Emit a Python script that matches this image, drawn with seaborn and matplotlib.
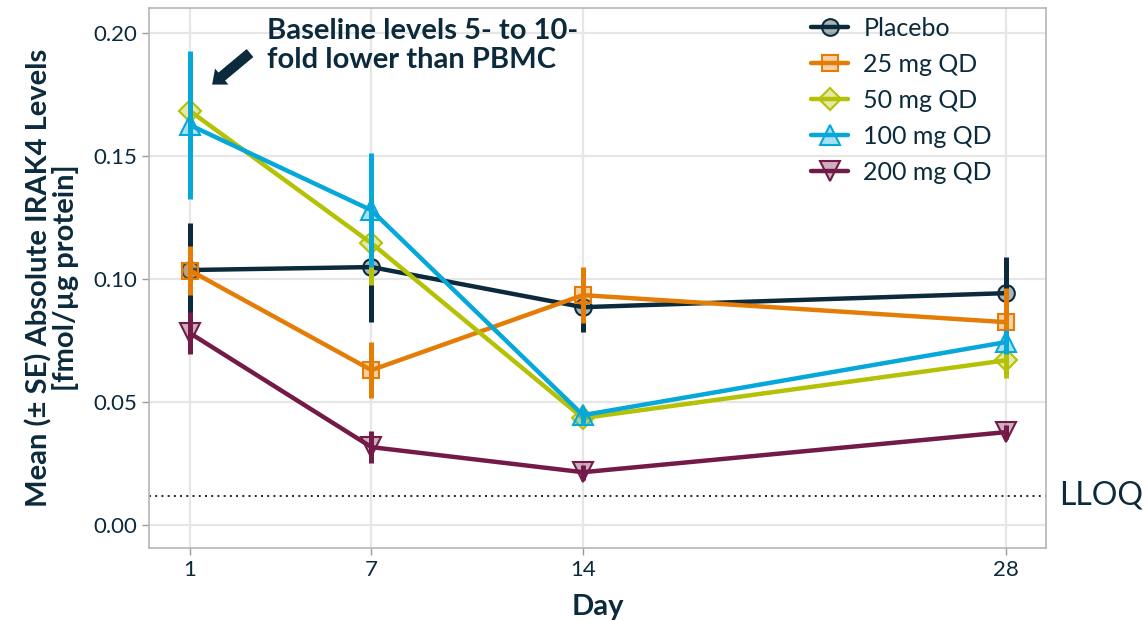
import matplotlib
matplotlib.use("Agg")
import matplotlib.pyplot as plt
import matplotlib.transforms as mtransforms
from matplotlib.colors import to_rgba
import seaborn as sns
import pandas as pd

# data
days = [1, 7, 14, 28]
groups = ["Placebo", "25 mg QD", "50 mg QD", "100 mg QD", "200 mg QD"]
placebo = [0.1037, 0.1049, 0.0886, 0.0943]
mg25 = [0.1035, 0.0630, 0.0935, 0.0825]
mg50 = [0.1683, 0.1146, 0.0435, 0.0670]
mg100 = [0.1626, 0.1280, 0.0447, 0.0744]
mg200 = [0.0780, 0.0317, 0.0215, 0.0378]
se_placebo = [0.0190, 0.0224, 0.0100, 0.0146]
se_25 = [0.0100, 0.0114, 0.0114, 0.0138]
se_50 = [0.0040, 0.0170, 0.0030, 0.0073]
se_100 = [0.0300, 0.0232, 0.0030, 0.0050]
se_200 = [0.0085, 0.0065, 0.0030, 0.0030]
lloq = 0.012

means = [placebo, mg25, mg50, mg100, mg200]
ses = [se_placebo, se_25, se_50, se_100, se_200]
colors = ["#0b2a3c", "#e47d06", "#b4c104", "#05a8d8", "#731a48"]
markers = ["o", "s", "D", "^", "v"]
msizes = [12, 12, 11, 14, 14]
text_col = "#0b2a3c"

rows = []
for g, m, s in zip(groups, means, ses):
    for d, v, e in zip(days, m, s):
        rows.append({"Day": d, "mean": v, "se": e, "group": g})
df = pd.DataFrame(rows)

sns.set_style("white")
plt.rcParams["font.family"] = ["Lato", "DejaVu Sans"]

fig = plt.figure(figsize=(11.48, 6.21), dpi=100)
ax = fig.add_axes([0.1298, 0.1176, 0.7813, 0.8694])

for i, g in enumerate(groups):
    sub = df[df["group"] == g]
    sns.lineplot(data=sub, x="Day", y="mean", color=colors[i], linewidth=3.2,
                 marker=markers[i], markersize=msizes[i],
                 markerfacecolor=to_rgba(colors[i], 0.35),
                 markeredgecolor=colors[i], markeredgewidth=1.5,
                 errorbar=None, ax=ax, zorder=3 + i, label=g)
    ax.errorbar(sub["Day"], sub["mean"], yerr=sub["se"], fmt="none",
                ecolor=colors[i], elinewidth=3.6, capsize=0, zorder=3 + i)

ax.axhline(lloq, color=text_col, linestyle=(0, (1, 2.2)), linewidth=1.4, zorder=2)
trans = mtransforms.blended_transform_factory(ax.transAxes, ax.transData)
ax.text(1.015, lloq, "LLOQ", transform=trans, va="center", ha="left",
        fontsize=23, color=text_col, clip_on=False)

ax.set_xlim(-0.36, 29.32)
ax.set_ylim(-0.0093, 0.2102)
ax.set_xticks(days)
ax.set_yticks([0.00, 0.05, 0.10, 0.15, 0.20])
ax.set_yticklabels(["0.00", "0.05", "0.10", "0.15", "0.20"])
ax.grid(True, color="#e6e6e6", linewidth=1.6, zorder=0)
ax.set_axisbelow(True)
for sp in ax.spines.values():
    sp.set_color("#b5b5b5")
    sp.set_linewidth(1.2)
ax.tick_params(axis="both", labelsize=16, colors="#9a9a9a", labelcolor=text_col,
               length=5, width=1, direction="out", left=True, bottom=True)

ax.set_xlabel("Day", fontsize=21, fontweight="bold", color=text_col, labelpad=10)
ax.set_ylabel("Mean (± SE) Absolute IRAK4 Levels\n[fmol/µg protein]", fontsize=21,
              fontweight="bold", color=text_col, linespacing=1.0, labelpad=10)

ax.annotate("", xy=(0.068, 0.855), xytext=(0.115, 0.92), xycoords="axes fraction",
            arrowprops=dict(arrowstyle="simple,head_length=0.9,head_width=1.5,tail_width=0.75",
                            color=text_col, lw=0))
ax.text(0.132, 0.982, "Baseline levels 5- to 10-\nfold lower than PBMC",
        transform=ax.transAxes, va="top", ha="left", fontsize=21,
        fontweight="bold", color=text_col, linespacing=1.15)

leg = ax.legend(loc="upper right", bbox_to_anchor=(0.965, 1.025), frameon=False,
                fontsize=18, handlelength=1.5, labelspacing=0.52, handletextpad=0.6)
for t in leg.get_texts():
    t.set_color(text_col)

fig.savefig("out.png", dpi=100)
